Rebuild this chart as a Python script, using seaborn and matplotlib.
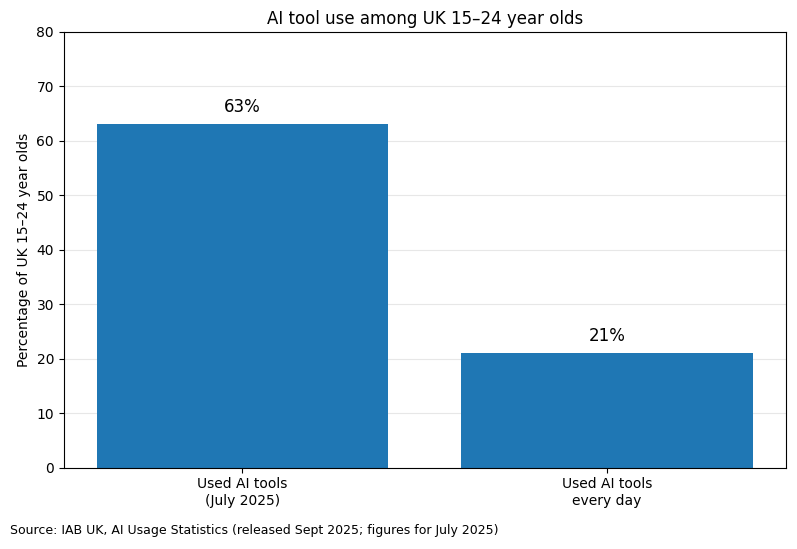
import matplotlib
matplotlib.use("Agg")
import matplotlib.pyplot as plt
import pandas as pd
import seaborn as sns

# data
categories = ["Used AI tools\n(July 2025)", "Used AI tools\nevery day"]
percentages = [63, 21]
bar_labels = ["63%", "21%"]

plt.rcParams["font.family"] = ["DejaVu Sans"]

df = pd.DataFrame({"category": categories, "pct": percentages})

fig, ax = plt.subplots(figsize=(7.97, 5.49), dpi=100)
sns.barplot(
    data=df, x="category", y="pct",
    color="#1f77b4", saturation=1, width=0.8, linewidth=0, ax=ax,
)
ax.set_xlim(-0.49, 1.49)
ax.set_ylim(0, 80)
ax.grid(axis="y", alpha=0.3)
ax.set_axisbelow(True)

for patch, lab in zip(ax.patches, bar_labels):
    ax.annotate(
        lab,
        (patch.get_x() + patch.get_width() / 2, patch.get_height()),
        xytext=(0, 6), textcoords="offset points",
        ha="center", va="bottom", fontsize=12,
    )

ax.set_xlabel("")
ax.set_ylabel("Percentage of UK 15–24 year olds")
ax.set_title("AI tool use among UK 15–24 year olds", fontsize=12)

fig.text(0.013, 0.022, "Source: IAB UK, AI Usage Statistics (released Sept 2025; figures for July 2025)",
         fontsize=9, ha="left", va="bottom")

plt.subplots_adjust(left=0.08, right=0.986, top=0.942, bottom=0.148)
plt.savefig("out.png", dpi=100)
plt.close()
